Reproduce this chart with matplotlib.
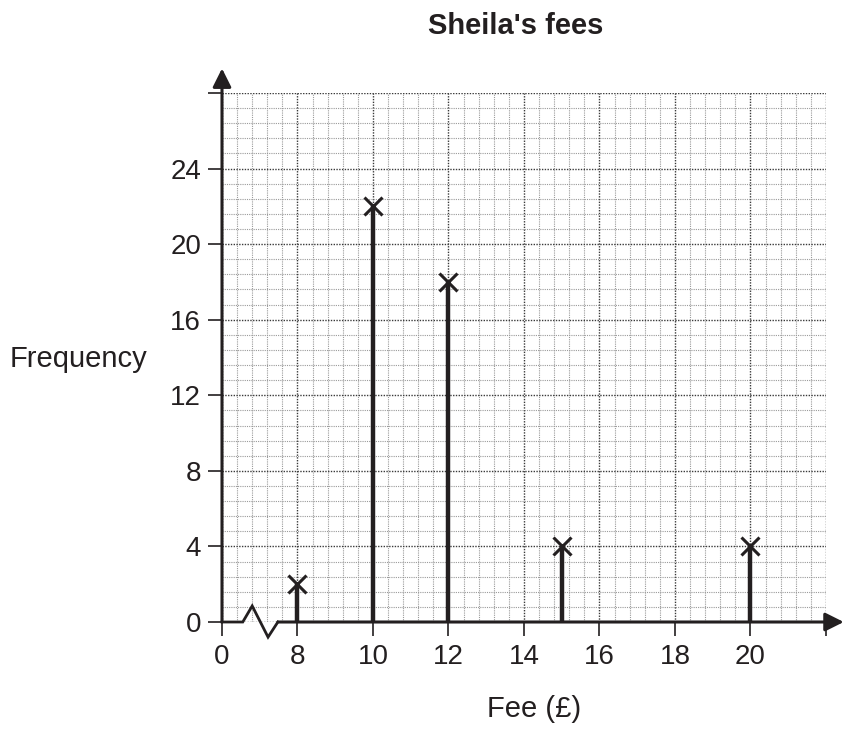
import numpy as np
import matplotlib.pyplot as plt

# chart values
fees = [8, 10, 12, 15, 20]
freqs = [2, 22, 18, 4, 4]
x_tick_pos = [6, 8, 10, 12, 14, 16, 18, 20, 22]
x_tick_labels = ['0', '8', '10', '12', '14', '16', '18', '20', '']
y_tick_pos = [0, 4, 8, 12, 16, 20, 24, 28]
y_tick_labels = ['0', '4', '8', '12', '16', '20', '24', '']

ink = '#231f20'
plt.rcParams['font.family'] = ['Liberation Sans', 'DejaVu Sans']

fig = plt.figure(figsize=(8.44, 7.29), dpi=100)
ax = fig.add_axes([222 / 844, 1 - 622 / 729, 604 / 844, 529 / 729])
x0, x1 = 6, 22
y0, y1 = 0, 28
ax.set_xlim(x0, x1)
ax.set_ylim(y0, y1)

# graph paper grid: 5 small squares per big square
ax.set_xticks(np.arange(x0, x1 + 0.01, 0.4), minor=True)
ax.set_yticks(np.arange(y0, y1 + 0.01, 0.8), minor=True)
ax.set_xticks(x_tick_pos)
ax.set_xticklabels(x_tick_labels)
ax.set_yticks(y_tick_pos)
ax.set_yticklabels(y_tick_labels)
ax.grid(which='minor', color='#9a9a9a', lw=0.8, ls=(0, (1, 1)), zorder=0)
ax.grid(which='major', color='#3a3a3a', lw=1.0, ls=(0, (1, 1)), zorder=0)
ax.set_axisbelow(True)

ax.tick_params(which='minor', length=0)
ax.tick_params(which='major', length=10, width=1.2, color=ink,
               labelsize=20, labelcolor=ink)
ax.tick_params(axis='y', pad=5)
ax.tick_params(axis='x', pad=6)

for s in ax.spines.values():
    s.set_visible(False)

# y axis with arrow
ax.annotate('', xy=(x0, 29.3), xytext=(x0, 0),
            arrowprops=dict(arrowstyle='-|>', lw=2.2, color=ink,
                            mutation_scale=28, shrinkA=0, shrinkB=0),
            annotation_clip=False, zorder=5)

# x axis with break (zigzag) between 0 and 8
b = 6.55
zig_x = [x0, b, b + 0.25, b + 0.67, b + 0.93]
zig_y = [0, 0, 0.85, -0.8, 0]
ax.plot(zig_x, zig_y, color=ink, lw=2.0, clip_on=False, zorder=5,
        solid_joinstyle='miter')
ax.annotate('', xy=(22.47, 0), xytext=(b + 0.93, 0),
            arrowprops=dict(arrowstyle='-|>', lw=2.2, color=ink,
                            mutation_scale=28, shrinkA=0, shrinkB=0),
            annotation_clip=False, zorder=5)

# vertical line graph with crosses
ax.vlines(fees, 0, freqs, color=ink, lw=3.2, zorder=6)
ax.plot(fees, freqs, 'x', color=ink, ms=13, mew=2.2, zorder=7, clip_on=False)

fig.text(516 / 844, 1 - 34 / 729, "Sheila's fees", ha='center', va='baseline',
         fontsize=21, fontweight='bold', color=ink)
fig.text(147 / 844, 1 - 367 / 729, 'Frequency', ha='right', va='baseline',
         fontsize=21, color=ink)
fig.text(534 / 844, 1 - 717 / 729, 'Fee (£)', ha='center', va='baseline',
         fontsize=21, color=ink)

fig.savefig('out.png', dpi=100, facecolor='white')
